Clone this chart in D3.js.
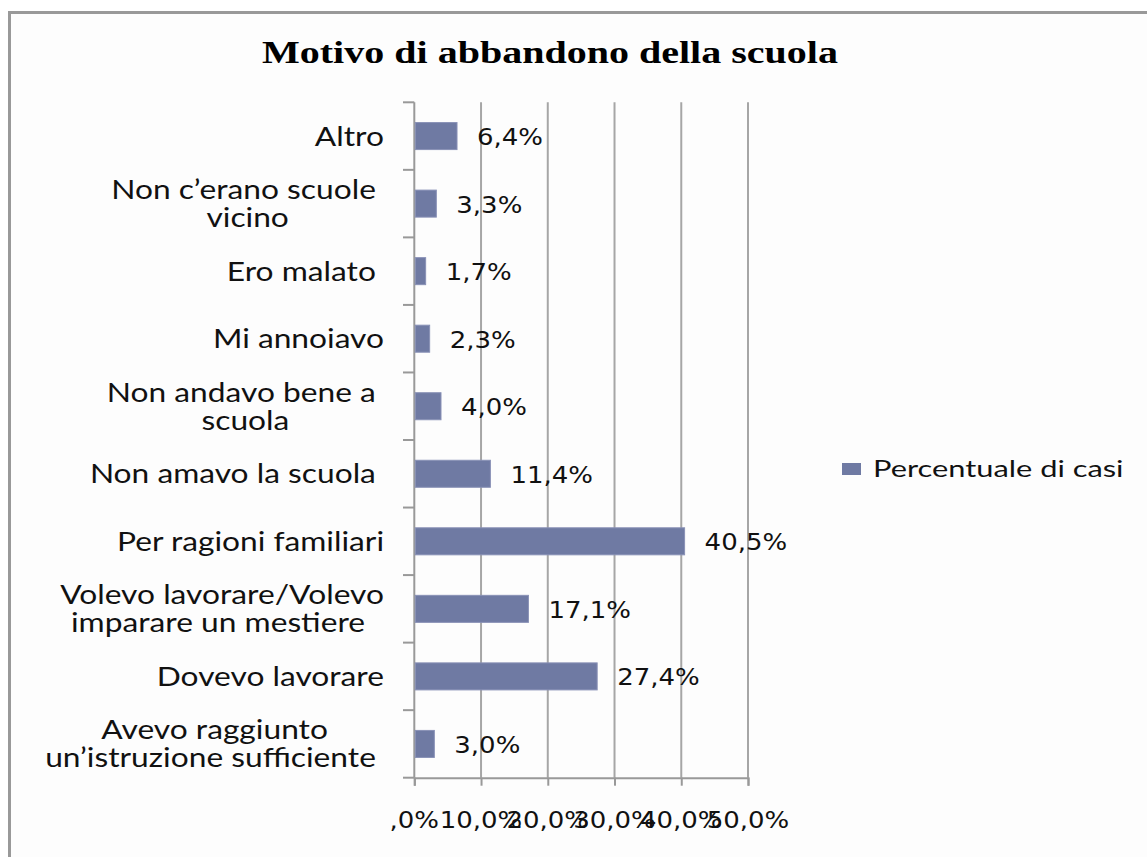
<!DOCTYPE html>
<html>
<head>
<meta charset="utf-8">
<script src="https://cdn.jsdelivr.net/npm/d3@7"></script>
<style>
  body { margin: 0; background: #fff; }
  svg text { white-space: pre; }
</style>
</head>
<body>
<svg id="chart"></svg>
<script>
// data, top to bottom
const categories = [
  ["Altro"],
  ["Non c\u2019erano scuole ", "vicino"],
  ["Ero malato "],
  ["Mi annoiavo"],
  ["Non andavo bene a ", "scuola"],
  ["Non amavo la scuola "],
  ["Per ragioni familiari"],
  ["Volevo lavorare/Volevo", "imparare un mestiere "],
  ["Dovevo lavorare"],
  ["Avevo raggiunto", "un\u2019istruzione sufficiente "]
];
const values = [6.4, 3.3, 1.7, 2.3, 4.0, 11.4, 40.5, 17.1, 27.4, 3.0];
const xTicks = [0, 10, 20, 30, 40, 50];
const seriesName = "Percentuale di casi";
const title = "Motivo di abbandono della scuola";

const width = 1147;
const height = 857;
const sx = 1.13; // horizontal stretch of the picture

const fmt = v => (v === 0 ? "" : d3.format(".0f")(Math.floor(v))) + "," + d3.format(".1f")(v).split(".")[1] + "%";

let svg = d3.select("#chart")
  .attr("width", width)
  .attr("height", height);

// frame
svg.append("rect")
  .attr("x", 9.5).attr("y", 12.5)
  .attr("width", width + 20).attr("height", height + 20)
  .attr("fill", "#fdfdfd")
  .attr("stroke", "#999").attr("stroke-width", 3);

let xScale = d3.scaleLinear()
  .domain([0, 50])
  .range([414.3, 748]);

let yScale = d3.scaleBand()
  .domain(d3.range(categories.length))
  .range([102.3, 777.7])
  .paddingInner(0.6)
  .paddingOuter(0.3);

// stretched text helper
function stretchedText(g, x, y, str, opts) {
  return g.append("text")
    .attr("transform", "translate(" + x + "," + y + ") scale(" + (opts.sx || sx) + ",1)")
    .attr("text-anchor", opts.anchor || "start")
    .attr("font-family", opts.font)
    .attr("font-size", opts.size)
    .attr("font-weight", opts.weight || "normal")
    .attr("fill", opts.fill || "#111")
    .text(str);
}

// title
svg.append("text")
  .attr("x", 262).attr("y", 63)
  .attr("textLength", 576)
  .attr("lengthAdjust", "spacingAndGlyphs")
  .attr("font-family", "Liberation Serif")
  .attr("font-weight", "bold")
  .attr("font-size", 31)
  .attr("fill", "#000")
  .text(title);

// gridlines
svg.append("g")
  .selectAll("line")
  .data(xTicks.slice(1))
  .join("line")
  .attr("x1", d => xScale(d)).attr("x2", d => xScale(d))
  .attr("y1", 102.3).attr("y2", 777.7)
  .attr("stroke", "#a6a6a6").attr("stroke-width", 2);

// x axis
let xAxis = d3.axisBottom(xScale)
  .tickValues(xTicks)
  .tickSize(8)
  .tickFormat("");
let xg = svg.append("g")
  .attr("class", "x-axis")
  .attr("transform", "translate(0,777.7)")
  .call(xAxis);
xg.select(".domain").attr("stroke", "#999").attr("stroke-width", 2);
xg.selectAll(".tick line").attr("stroke", "#999").attr("stroke-width", 2);

xTicks.forEach(t => {
  stretchedText(svg, xScale(t), 828, t === 0 ? ",0%" : fmt(t), {
    anchor: "middle", font: "DejaVu Sans", size: 23
  });
});

// y axis with ticks at band boundaries
let bounds = d3.range(categories.length + 1).map(i => 102.3 + i * (777.7 - 102.3) / categories.length);
let yg = svg.append("g").attr("class", "y-axis");
yg.append("line")
  .attr("x1", 414.3).attr("x2", 414.3)
  .attr("y1", 102.3).attr("y2", 777.7)
  .attr("stroke", "#999").attr("stroke-width", 2);
yg.selectAll("line.tick")
  .data(bounds)
  .join("line")
  .attr("class", "tick")
  .attr("x1", 403).attr("x2", 414.3)
  .attr("y1", d => d).attr("y2", d => d)
  .attr("stroke", "#999").attr("stroke-width", 2);

// bars
svg.append("g")
  .selectAll("rect")
  .data(values)
  .join("rect")
  .attr("x", xScale(0) + 1)
  .attr("y", (d, i) => yScale(i))
  .attr("width", d => xScale(d) - xScale(0) - 1)
  .attr("height", yScale.bandwidth())
  .attr("fill", "#6f7aa3")
  .attr("stroke", "#8991b6")
  .attr("stroke-width", 1);

// value labels
values.forEach((v, i) => {
  let cy = yScale(i) + yScale.bandwidth() / 2;
  stretchedText(svg, xScale(v) + 20, cy + 9, fmt(v), {
    font: "DejaVu Sans", size: 23
  });
});

// category labels
let labelRight = 384;
let lineH = 28;
let catSx = 1.22;
categories.forEach((lines, i) => {
  let cy = yScale(i) + yScale.bandwidth() / 2;
  let g = svg.append("g");
  let nodes = lines.map((ln, j) => {
    let base = cy + 9.5 + (j - (lines.length - 1) / 2) * lineH;
    return stretchedText(g, 0, base, ln, {
      anchor: "middle", font: "Lato", size: 26, sx: catSx
    }).attr("data-base", base);
  });
  let w = d3.max(nodes, n => n.node().getComputedTextLength() * catSx);
  let cx = labelRight - w / 2;
  nodes.forEach(n => {
    n.attr("transform", "translate(" + cx + "," + n.attr("data-base") + ") scale(" + catSx + ",1)");
  });
});

// legend
svg.append("rect")
  .attr("x", 842).attr("y", 463)
  .attr("width", 19).attr("height", 12)
  .attr("fill", "#6f7aa3");
stretchedText(svg, 873, 477, seriesName, {
  font: "Lato", size: 23, sx: 1.34
});
</script>
</body>
</html>
